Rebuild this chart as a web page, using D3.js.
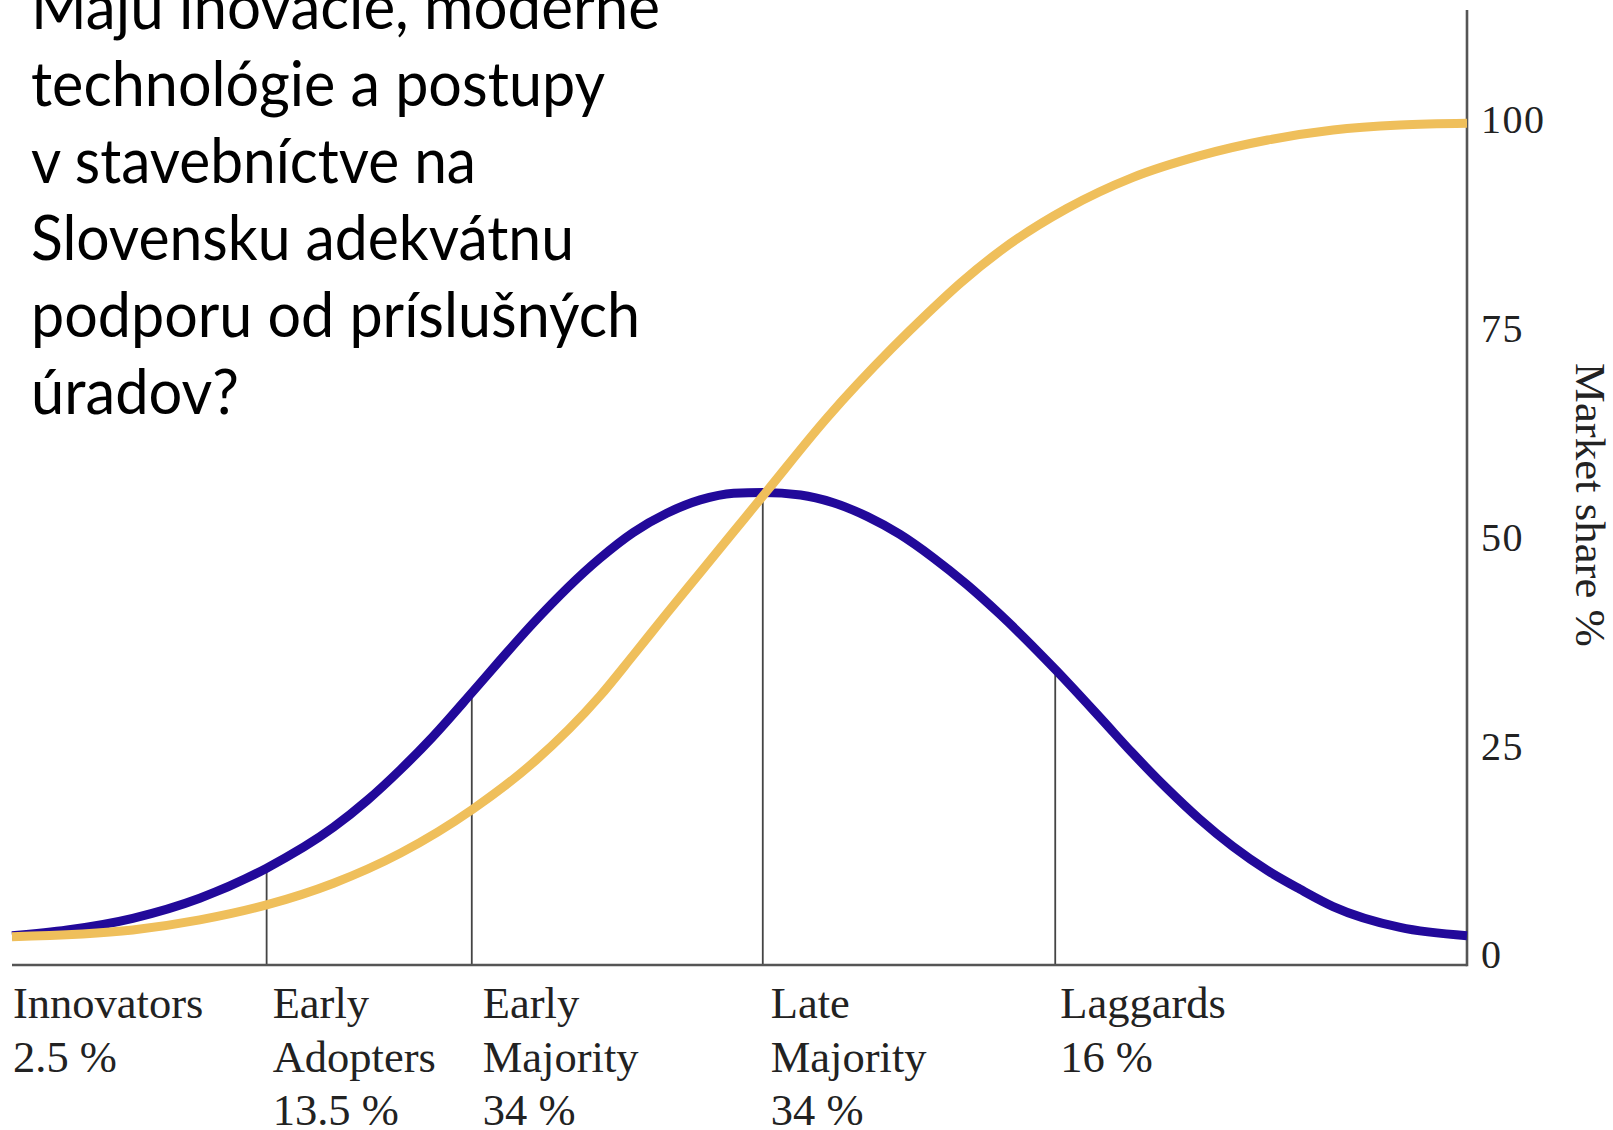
<!DOCTYPE html>
<html>
<head>
<meta charset="utf-8">
<script src="https://cdn.jsdelivr.net/npm/d3@7"></script>
<style>
  html, body { margin: 0; padding: 0; background: #ffffff; }
  svg { display: block; }
</style>
</head>
<body>
<svg id="chart" width="1613" height="1130"></svg>
<script>
// ---- data ----
const titleLines = [
  "Majú inovácie, moderné",
  "technológie a postupy",
  "v stavebníctve na",
  "Slovensku adekvátnu",
  "podporu od príslušných",
  "úradov?"
];
// adoption (bell) curve, x in % of time span, y in market share %
const adoptersX = [0, 3.8, 8.3, 12.9, 17.5, 22.1, 24.4, 26.7, 28.9, 31.7, 33.5, 35.8, 40.4, 42.7, 45.0, 47.3,
                   49.6, 51.6, 54.2, 56.4, 58.8, 61.0, 63.3, 65.6, 67.9, 71.7, 74.8, 77.0, 79.4, 81.6, 83.9,
                   86.3, 88.5, 90.8, 95.4, 100];
const adoptersY = [2.3, 3.0, 4.4, 6.8, 10.4, 15.3, 18.5, 22.2, 26.1, 31.6, 35.2, 39.7, 47.5, 50.6, 52.9, 54.5,
                   55.3, 55.4, 55.1, 54.2, 52.5, 50.4, 47.6, 44.4, 40.8, 34.2, 28.4, 24.2, 19.9, 16.3, 13.0,
                   10.1, 7.9, 5.8, 3.3, 2.3];
// cumulative market share (S) curve
const shareX = [0, 8.3, 12.9, 17.5, 22.1, 26.7, 31.7, 35.8, 40.4, 42.7, 45.0, 47.3, 49.6, 51.9, 56.0, 60.5,
                62.9, 65.2, 67.9, 72.5, 77.0, 81.6, 86.3, 90.8, 95.4, 100];
const shareY = [2.2, 3.0, 4.2, 6.0, 8.6, 12.2, 17.5, 23.0, 31.0, 35.9, 40.9, 45.8, 50.7, 55.6, 64.3, 72.7,
                76.8, 80.5, 84.3, 89.4, 93.1, 95.7, 97.6, 98.8, 99.4, 99.6];
const categoryNames = [["Innovators"], ["Early", "Adopters"], ["Early", "Majority"], ["Late", "Majority"], ["Laggards"]];
const categoryShares = ["2.5 %", "13.5 %", "34 %", "34 %", "16 %"];
const categoryStarts = [0, 17.5, 31.6, 51.6, 71.7];
const dividerValues = [17.5, 31.6, 51.6, 71.7];
const yTicks = [0, 25, 50, 75, 100];
const yAxisTitle = "Market share %";

// ---- layout ----
const svg = d3.select("#chart");
const plotLeft = 12, plotRight = 1467, baselineY = 965, axisTop = 10;
const x = d3.scaleLinear().domain([0, 100]).range([plotLeft, plotRight]);
const y = d3.scaleLinear().domain([0, 100]).range([955, 120]);
const labelOffsets = [1, 6, 11, 8, 5];

const serif = "'Liberation Serif', 'Times New Roman', serif";

const interp = (xs, ys, v) => {
  for (let i = 0; i < xs.length - 1; i++) {
    if (v >= xs[i] && v <= xs[i + 1]) {
      const t = (v - xs[i]) / (xs[i + 1] - xs[i]);
      return ys[i] + t * (ys[i + 1] - ys[i]);
    }
  }
  return 0;
};

// dividers (from baseline up to the bell curve)
svg.append("g").selectAll("line").data(dividerValues).join("line")
  .attr("x1", d => x(d)).attr("x2", d => x(d))
  .attr("y1", baselineY).attr("y2", d => y(interp(adoptersX, adoptersY, d)) + 3)
  .attr("stroke", "#444").attr("stroke-width", 1.8);

// baseline
svg.append("line")
  .attr("x1", plotLeft).attr("x2", plotRight)
  .attr("y1", baselineY).attr("y2", baselineY)
  .attr("stroke", "#555").attr("stroke-width", 2.6);

// right axis line
svg.append("line")
  .attr("x1", plotRight).attr("x2", plotRight)
  .attr("y1", axisTop).attr("y2", baselineY + 1.3)
  .attr("stroke", "#555").attr("stroke-width", 2.6);

// right axis tick labels
const axis = d3.axisRight(y).tickValues(yTicks).tickSize(0).tickPadding(14);
const gAxis = svg.append("g").attr("transform", `translate(${plotRight},0)`).call(axis);
gAxis.select(".domain").remove();
gAxis.selectAll("text")
  .attr("font-family", serif).attr("font-size", 40).attr("fill", "#222")
  .attr("letter-spacing", 1.5);

// axis title
svg.append("text")
  .attr("transform", `translate(1576,505) rotate(90)`)
  .attr("text-anchor", "middle")
  .attr("font-family", serif).attr("font-size", 42).attr("fill", "#222")
  .attr("textLength", 284).attr("lengthAdjust", "spacingAndGlyphs")
  .text(yAxisTitle);

// curves
const line = d3.line().curve(d3.curveMonotoneX);
svg.append("path")
  .attr("d", line(adoptersX.map((v, i) => [x(v), y(adoptersY[i])])))
  .attr("fill", "none").attr("stroke", "#22099a").attr("stroke-width", 9)
  .attr("stroke-linecap", "butt");
svg.append("path")
  .attr("d", line(shareX.map((v, i) => [x(v), y(shareY[i])])))
  .attr("fill", "none").attr("stroke", "#efbf5b").attr("stroke-width", 9)
  .attr("stroke-linecap", "butt");

// category labels
const gLab = svg.append("g").attr("font-family", serif).attr("font-size", 44.5).attr("fill", "#222");
categoryNames.forEach((names, i) => {
  const lines = names.concat([categoryShares[i]]);
  const lx = x(categoryStarts[i]) + labelOffsets[i];
  const t = gLab.append("text").attr("x", lx).attr("y", 1018);
  lines.forEach((s, j) => {
    t.append("tspan").attr("x", lx).attr("y", 1018 + j * 53.5).text(s);
  });
});

// title text
const titleWidths = [629, 574, 445, 543, 609, 208];
const gTitle = svg.append("g").attr("font-family", "Lato, 'Open Sans', sans-serif").attr("font-size", 62).attr("fill", "#000");
titleLines.forEach((s, i) => {
  gTitle.append("text").attr("x", 31).attr("y", 29 + i * 77)
    .attr("textLength", titleWidths[i]).attr("lengthAdjust", "spacingAndGlyphs")
    .text(s);
});
</script>
</body>
</html>
